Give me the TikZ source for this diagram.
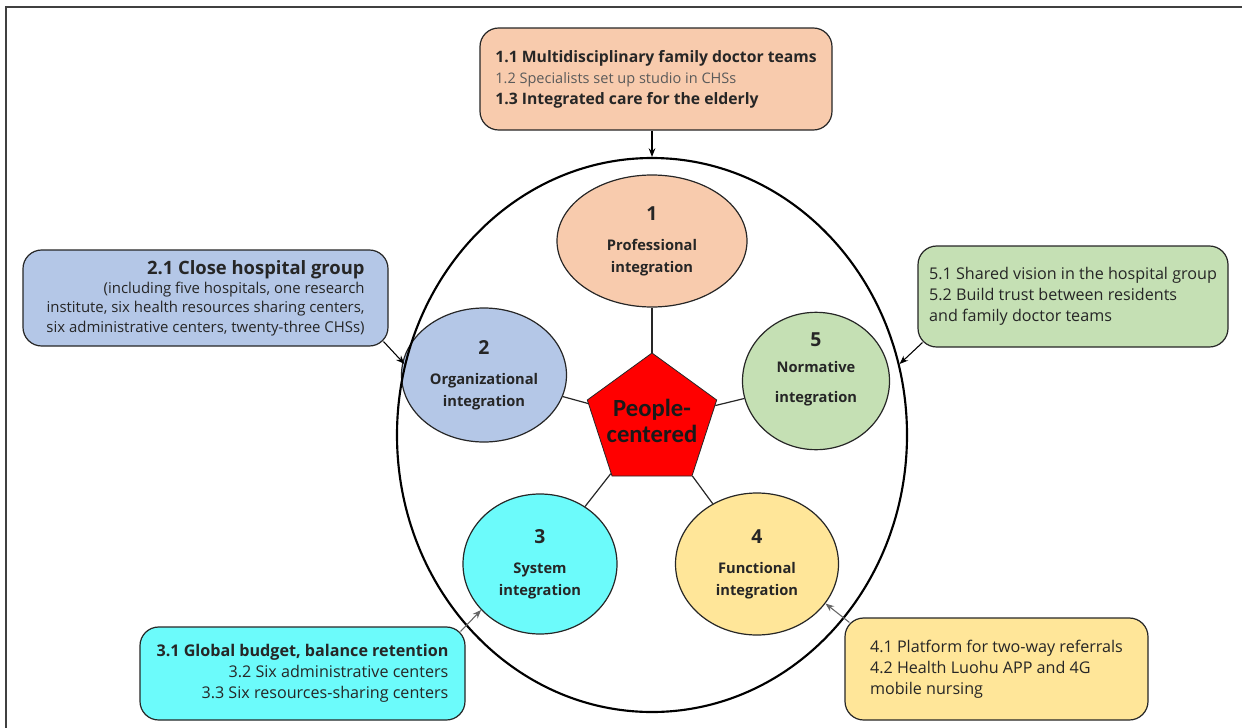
\documentclass[tikz,border=0pt]{standalone}
\usepackage{fontspec}
\setmainfont{Open Sans}
\newfontfamily\corefont{Carlito}
\usetikzlibrary{shapes.geometric,arrows.meta}

\definecolor{peach}{HTML}{F8CBAD}
\definecolor{bluegray}{HTML}{B4C7E7}
\definecolor{sage}{HTML}{C5E0B4}
\definecolor{aqua}{HTML}{6CFBFB}
\definecolor{sand}{HTML}{FFE699}
\definecolor{ink}{HTML}{262626}
\definecolor{softink}{HTML}{5A5A5A}
\definecolor{pcred}{HTML}{FF0000}

\newcommand{\areanum}[1]{{\fontsize{14.5}{16.5}\selectfont #1}}

\tikzset{
  notebox/.style={draw=ink, line width=0.9pt, rounded corners=14pt, inner sep=0pt,
    text=ink, font=\fontsize{12.1}{15.75}\selectfont},
  area/.style={ellipse, draw=ink, line width=0.9pt, inner sep=0pt, align=center,
    text=ink, font=\bfseries\fontsize{11}{16.5}\selectfont},
  link/.style={draw=ink, line width=0.9pt},
  pointer/.style={-{Stealth[length=6.5pt,width=5pt]}, line width=0.8pt},
}

\begin{document}
\begin{tikzpicture}[x=0.75pt,y=0.75pt,yscale=-1,xscale=1]
\useasboundingbox (0,0) rectangle (1242,728);

%Shape: Frame
\draw [line width=1.5pt, draw=black!75] (6,728) -- (6,7) -- (1242,7);

%Shape: Ellipse [professional]
\node [area, fill=peach, minimum width=142.5pt, minimum height=99pt] (prof) at (652,241) {\areanum{1}\\[6pt]Professional\\integration};
%Shape: Ellipse [organizational]
\node [area, fill=bluegray, minimum width=123.75pt, minimum height=100.5pt] (org) at (484,375) {\areanum{2}\\[6pt]Organizational\\integration};
%Shape: Ellipse [system]
\node [area, fill=aqua, minimum width=115.5pt, minimum height=105pt] (sys) at (540,564) {\areanum{3}\\[6pt]System\\integration};
%Shape: Ellipse [functional]
\node [area, fill=sand, minimum width=122.25pt, minimum height=106.5pt] (func) at (757,564) {\areanum{4}\\[6pt]Functional\\integration};
%Shape: Ellipse [normative]
\node [area, fill=sage, minimum width=110.25pt, minimum height=94.5pt] (norm) at (816,381) {\areanum{5}\\[3pt]Normative\\[6pt]integration\\[4pt]};

%Shape: Pentagon
\node [regular polygon, regular polygon sides=5, minimum size=102pt, inner sep=0pt, fill=pcred, draw=ink, line width=0.6pt] (core) at (652,421) {};
% Text Node
\node [align=center, text=black!90, font=\corefont\bfseries\fontsize{18.5}{19}\selectfont] (corelabel) at (core.center) {People-\\centered};

%Shape: Circle (outer ring)
\node [ellipse, draw=black, line width=1.6pt, minimum width=382.5pt, minimum height=415.5pt] (ring) at (652,435) {};

% Links
\draw [link] (core) -- (prof);
\draw [link] (core) -- (org);
\draw [link] (core) -- (sys);
\draw [link] (core) -- (func);
\draw [link] (core) -- (norm);

% Text Node
\node [notebox, fill=peach, align=left, minimum width=264pt, minimum height=76.5pt, font=\fontsize{11.8}{15.75}\selectfont] (b1) at (656,79) {\textbf{1.1 Multidisciplinary family doctor teams}\\
{\fontsize{10.9}{15.75}\selectfont\color{softink}1.2 Specialists set up studio in CHSs}\\
\textbf{1.3 Integrated care for the elderly}};
% Text Node
\node [notebox, fill=bluegray, align=right, minimum width=273.75pt, minimum height=72pt, font=\fontsize{11.2}{14.6}\selectfont] (b2) at (205.5,298) {{\fontsize{13.8}{15}\selectfont\bfseries 2.1 Close hospital group}\\
(including five hospitals, one research\\
institute, six health resources sharing centers,\\
six administrative centers, twenty-three CHSs)};
% Text Node
\node [notebox, fill=sage, align=left, minimum width=232.5pt, minimum height=75.75pt] (b5) at (1073,296.5) {5.1 Shared vision in the hospital group\\
5.2 Build trust between residents\\
and family doctor teams};
% Text Node
\node [notebox, fill=aqua, align=right, minimum width=243.75pt, minimum height=69.75pt] (b3) at (302.5,673.5) {\textbf{3.1 Global budget, balance retention}\\
3.2 Six administrative centers\\
3.3 Six resources-sharing centers};
% Text Node
\node [notebox, fill=sand, align=left, minimum width=227.25pt, minimum height=76.5pt] (b4) at (996.5,669) {4.1 Platform for two-way referrals\\
4.2 Health Luohu APP and 4G\\
mobile nursing};

% Arrows
\draw [pointer] (b1.south -| ring.north) -- (ring.north);
\draw [pointer] ([shift={(-5,-5)}]b2.south east) -- (ring.164);
\draw [pointer] ([shift={(5,-5)}]b5.south west) -- (ring.16);
\draw [pointer, draw=black!60] ([shift={(-5,5)}]b3.north east) -- (sys.218);
\draw [pointer, draw=black!60] ([shift={(5,5)}]b4.north west) -- (func.330);

\end{tikzpicture}
\end{document}
